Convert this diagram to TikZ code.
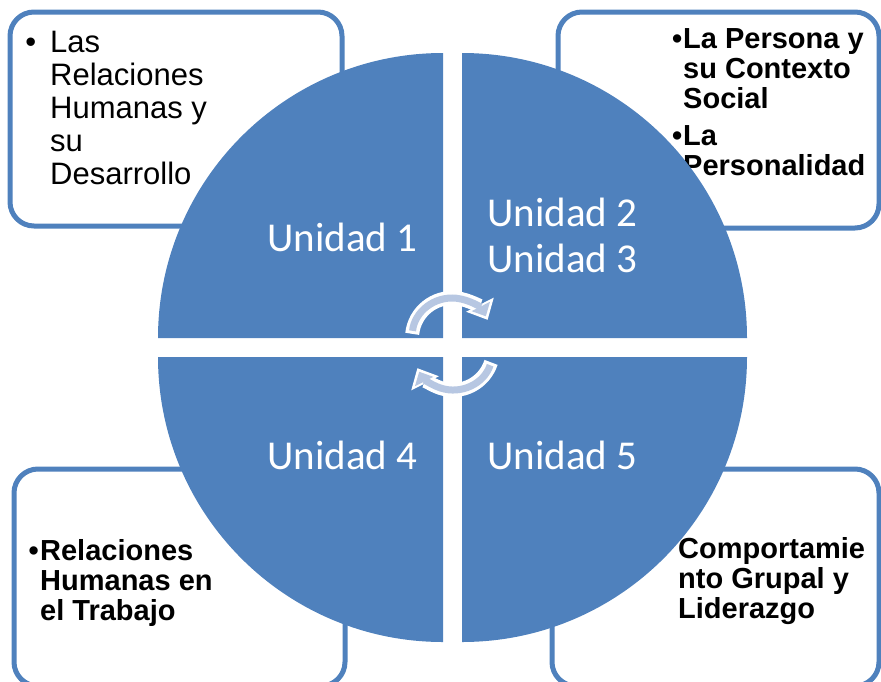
\documentclass[tikz,border=0pt]{standalone}
\usepackage{fontspec}
\setmainfont{Liberation Sans}
\newfontfamily\unifont{Carlito}
\usetikzlibrary{arrows.meta}
\definecolor{uniblue}{RGB}{79,129,189}
\definecolor{giro}{RGB}{183,199,226}
\newcommand\bala[1]{\leavevmode\llap{\textbullet\hspace{#1}}}
\tikzset{
  temabox/.style={draw=uniblue, line width=5pt, fill=white, rounded corners=24pt},
  unidad/.style={text=white, font=\unifont\fontsize{41}{46}\selectfont, inner sep=0pt, anchor=base},
  tema/.style={font=\fontsize{29}{30}\selectfont\bfseries, inner sep=0pt, anchor=base west},
  girobase/.style={white, line width=14pt, -{Triangle[length=17pt,width=30pt]}},
  girotop/.style={giro, line width=7pt, shorten <=3pt, shorten >=4pt, -{Triangle[length=11pt,width=20pt]}},
}
\begin{document}
\begin{tikzpicture}[x=1pt,y=-1pt]
  \useasboundingbox (0,0) rectangle (881,681);
  \clip (0,0) rectangle (881,681);
  % cajas de temas
  \draw [temabox] (10,12) rectangle (342,226);
  \draw [temabox] (558,12) rectangle (879,228);
  \draw [temabox] (14,469) rectangle (345,686);
  \draw [temabox] (552,469) rectangle (879,686);
  \node [anchor=base west, inner sep=0pt, font=\fontsize{31}{33}\selectfont] (tema1) at (50,52)
    {\parbox[t]{250pt}{\raggedright\bala{14pt}Las\\Relaciones\\Humanas y\\su\\Desarrollo}};
  \node [tema] (tema2) at (683,48)
    {\parbox[t]{250pt}{\raggedright\bala{1pt}La Persona y\\su Contexto\\Social\\[7pt]\bala{1pt}La\\Personalidad}};
  \node [tema] (tema3) at (40,560)
    {\parbox[t]{250pt}{\raggedright\bala{1.5pt}Relaciones\\Humanas en\\el Trabajo}};
  \node [tema] (tema4) at (678,558)
    {\parbox[t]{250pt}{\raggedright Comportamie\\nto Grupal y\\Liderazgo}};
  % circulo en cuatro partes
  \foreach \cx/\cy/\a in {443/338/180, 462/338/270, 462/357/0, 443/357/90}
    \fill [uniblue] (\cx,\cy) -- ++(\a:285) arc [start angle=\a, delta angle=90, radius=285] -- cycle;
  \node [unidad] (u1) at (342.5,251) {Unidad 1};
  \node [unidad] (u23) at (562.5,226) {\parbox[t]{200pt}{\centering Unidad 2\\Unidad 3}};
  \node [unidad] (u4) at (342.5,469) {Unidad 4};
  \node [unidad] (u5) at (562.5,469) {Unidad 5};
  % flechas circulares
  \draw [girobase] (452,338) ++(186:40) arc [start angle=186, end angle=333, radius=40];
  \draw [girotop] (452,338) ++(186:40) arc [start angle=186, end angle=333, radius=40];
  \draw [girobase] (453,350) ++(18:40) arc [start angle=18, end angle=153, radius=40];
  \draw [girotop] (453,350) ++(18:40) arc [start angle=18, end angle=153, radius=40];
\end{tikzpicture}
\end{document}
